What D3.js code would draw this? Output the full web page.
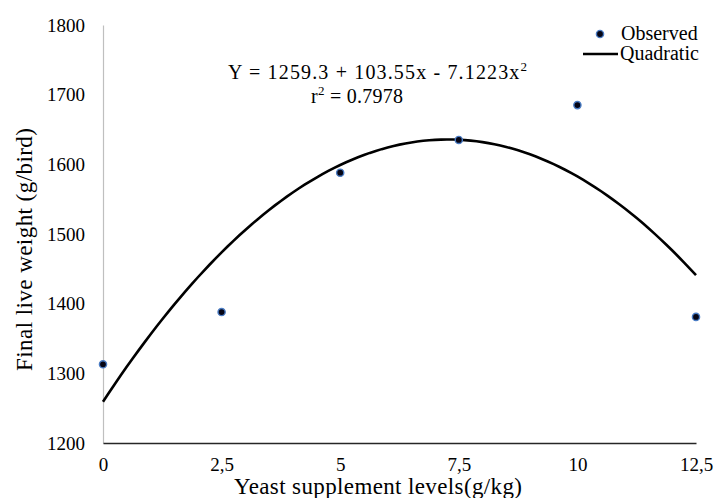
<!DOCTYPE html>
<html>
<head>
<meta charset="utf-8">
<script src="https://cdn.jsdelivr.net/npm/d3@7"></script>
<style>
  html, body { margin: 0; padding: 0; background: #fff; }
  svg { display: block; }
  svg text { font-family: "Liberation Serif", "Times New Roman", serif; fill: #000; }
</style>
</head>
<body>
<svg id="chart" width="714" height="498"></svg>
<script>
// Yeast supplement levels (g/kg) and observed final live weight (g/bird)
const levels = [0, 2.5, 5, 7.5, 10, 12.5];
const observed = [1313, 1388, 1588, 1635, 1685, 1381];

// Quadratic fit: Y = b0 + b1 x + b2 x^2
const coefficients = [1259.3, 103.55, -7.1223];
const rSquared = "0.7978";

const xTicks = [0, 2.5, 5, 7.5, 10, 12.5];
const xTickLabels = ["0", "2,5", "5", "7,5", "10", "12,5"];
const yTicks = [1200, 1300, 1400, 1500, 1600, 1700, 1800];

const svg = d3.select("#chart");
const margin = { left: 103, right: 18, top: 25, bottom: 55 };
const W = 714, H = 498;

const x = d3.scaleLinear().domain([0, 12.5]).range([margin.left, W - margin.right]);
const y = d3.scaleLinear().domain([1200, 1800]).range([H - margin.bottom, margin.top]);

// Y axis: light grey line, no tick marks
const yAxis = svg.append("g")
  .attr("transform", `translate(${margin.left},0)`)
  .call(d3.axisLeft(y).tickValues(yTicks).tickSize(0).tickPadding(18).tickFormat(d3.format("d")));
yAxis.attr("font-family", null).attr("font-size", null);
yAxis.select(".domain").attr("stroke", "#bfbfbf").attr("stroke-width", 1.2);
yAxis.selectAll("text").attr("font-size", 19);

// X axis: dark line, no tick marks
const xAxis = svg.append("g")
  .attr("transform", `translate(0,${y(1200)})`)
  .call(d3.axisBottom(x).tickValues(xTicks).tickSize(0).tickPadding(15)
    .tickFormat((d, i) => xTickLabels[i]));
xAxis.attr("font-family", null).attr("font-size", null);
xAxis.select(".domain").attr("stroke", "#262626").attr("stroke-width", 1.6);
xAxis.selectAll("text").attr("font-size", 19);

// Fitted quadratic curve
const fit = v => coefficients[0] + coefficients[1] * v + coefficients[2] * v * v;
const curveX = d3.range(0, 12.5001, 0.125);
svg.append("path")
  .datum(curveX)
  .attr("fill", "none")
  .attr("stroke", "#000")
  .attr("stroke-width", 2.6)
  .attr("d", d3.line().x(d => x(d)).y(d => y(fit(d))));

// Observed points
svg.append("g").selectAll("circle")
  .data(levels.map((l, i) => ({ l, v: observed[i] })))
  .join("circle")
  .attr("cx", d => x(d.l))
  .attr("cy", d => y(d.v))
  .attr("r", 3.6)
  .attr("fill", "#050515")
  .attr("stroke", "#4a7cc4")
  .attr("stroke-width", 1.4);

// Equation and r²
const eq = svg.append("text")
  .attr("x", 228).attr("y", 79)
  .attr("font-size", 20)
  .attr("textLength", 299)
  .attr("lengthAdjust", "spacing");
eq.append("tspan").text(`Y = ${coefficients[0]} + ${coefficients[1]}x - ${-coefficients[2]}x`);
eq.append("tspan").attr("font-size", 13).attr("dy", -8).text("2");

const r2 = svg.append("text")
  .attr("x", 311).attr("y", 103)
  .attr("font-size", 20)
  .attr("textLength", 92)
  .attr("lengthAdjust", "spacing");
r2.append("tspan").text("r");
r2.append("tspan").attr("font-size", 13).attr("dy", -8).text("2");
r2.append("tspan").attr("dy", 8).text(` = ${rSquared}`);

// Legend
const legend = svg.append("g");
legend.append("circle").attr("cx", 600).attr("cy", 34).attr("r", 3.6)
  .attr("fill", "#050515").attr("stroke", "#4a7cc4").attr("stroke-width", 1.4);
legend.append("text").attr("x", 621).attr("y", 40).attr("font-size", 20).text("Observed");
legend.append("line").attr("x1", 583).attr("x2", 618).attr("y1", 54).attr("y2", 54)
  .attr("stroke", "#000").attr("stroke-width", 2.6);
legend.append("text").attr("x", 620).attr("y", 60).attr("font-size", 20).text("Quadratic");

// Axis titles
svg.append("text")
  .attr("x", 234).attr("y", 494)
  .attr("font-size", 23)
  .attr("textLength", 288)
  .attr("lengthAdjust", "spacing")
  .text("Yeast supplement levels(g/kg)");
svg.append("text")
  .attr("transform", "translate(32,371) rotate(-90)")
  .attr("font-size", 23)
  .attr("textLength", 243)
  .attr("lengthAdjust", "spacing")
  .text("Final live weight (g/bird)");
</script>
</body>
</html>
